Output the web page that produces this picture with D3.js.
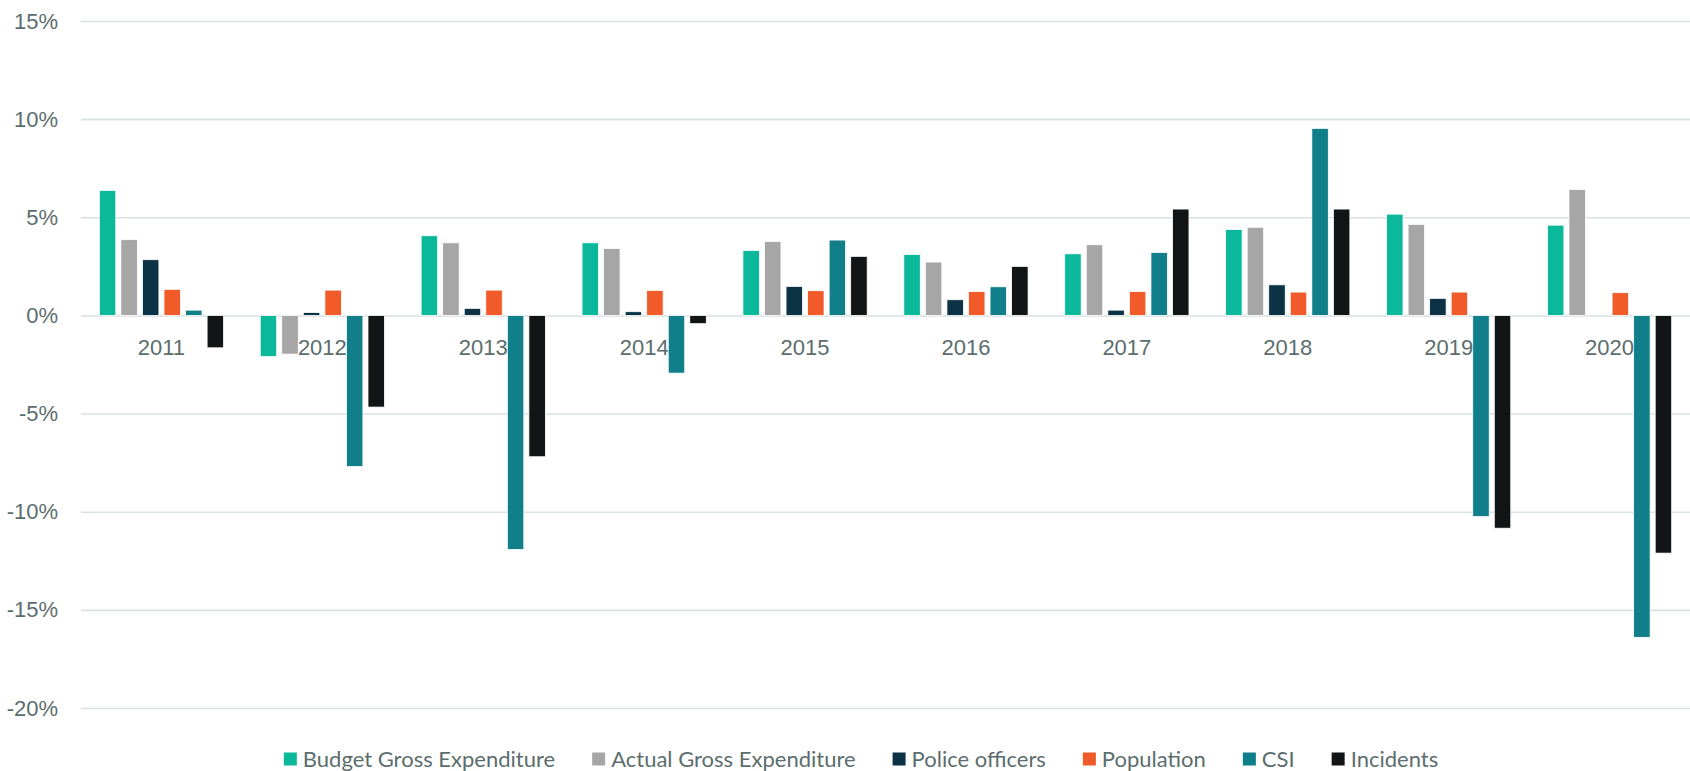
<!DOCTYPE html>
<html>
<head>
<meta charset="utf-8">
<script src="https://cdn.jsdelivr.net/npm/d3@7"></script>
<style>
	body { margin: 0; background: #fff; }
	svg { display: block; font-family: Lato, "Open Sans", sans-serif; }
	.yAxis text, .xAxis text { fill: #5b6e6d; font-size: 22px; }
	.legend text { fill: #5b6e6d; font-size: 22px; }
</style>
</head>
<body>
<svg id="chart"></svg>
<script>
// values (percent change)
var years = ["2011", "2012", "2013", "2014", "2015", "2016", "2017", "2018", "2019", "2020"];
var seriesNames = ["Budget Gross Expenditure", "Actual Gross Expenditure", "Police officers", "Population", "CSI", "Incidents"];
var seriesColors = ["#0bb99a", "#a6a6a6", "#0c3246", "#f15a29", "#117f8a", "#111516"];

var budgetGross    = [6.37, -2.10, 4.06, 3.70, 3.31, 3.11, 3.14, 4.38, 5.16, 4.60];
var actualGross    = [3.86, -1.97, 3.70, 3.41, 3.77, 2.72, 3.60, 4.49, 4.64, 6.41];
var policeOfficers = [2.84, 0.15, 0.36, 0.19, 1.48, 0.80, 0.27, 1.56, 0.87, null];
var population     = [1.33, 1.29, 1.29, 1.27, 1.26, 1.22, 1.22, 1.19, 1.19, 1.16];
var csi            = [0.27, -7.70, -11.93, -2.94, 3.84, 1.46, 3.21, 9.53, -10.25, -16.40];
var incidents      = [-1.65, -4.67, -7.20, -0.42, 3.01, 2.50, 5.42, 5.42, -10.84, -12.11];

var yTicks = [-20, -15, -10, -5, 0, 5, 10, 15];

var allSeries = [budgetGross, actualGross, policeOfficers, population, csi, incidents];

var width = 1690, height = 771;
var margin = { top: 21, right: 0, bottom: 63, left: 81 };

var svg = d3.select("#chart")
	.attr("width", width)
	.attr("height", height);

var x0 = d3.scaleBand()
	.domain(years)
	.range([margin.left, width - margin.right])
	.paddingInner(0)
	.paddingOuter(0);

var x1 = d3.scaleBand()
	.domain(d3.range(seriesNames.length))
	.range([0, x0.bandwidth()])
	.paddingInner(0.235)
	.paddingOuter(0.85);

var y = d3.scaleLinear()
	.domain([-20, 15])
	.range([height - margin.bottom, margin.top]);

// gridlines + y labels
var yAxis = svg.append("g")
	.attr("class", "yAxis")
	.attr("transform", "translate(" + margin.left + ",0)")
	.call(d3.axisLeft(y)
		.tickValues(yTicks)
		.tickSize(-(width - margin.left - margin.right))
		.tickPadding(23)
		.tickFormat(function(d) { return d + "%"; }));
yAxis.select(".domain").remove();
yAxis.selectAll("line")
	.attr("stroke", "#d9e1e0")
	.attr("stroke-width", 1.6);

// bars
var groups = svg.append("g")
	.selectAll("g")
	.data(years)
	.enter()
	.append("g")
	.attr("transform", function(d) { return "translate(" + x0(d) + ",0)"; });

groups.selectAll("rect")
	.data(function(d, i) {
		return allSeries.map(function(s, k) { return { key: k, value: s[i] }; })
			.filter(function(e) { return e.value != null; });
	})
	.enter()
	.append("rect")
	.attr("x", function(d) { return x1(d.key); })
	.attr("width", x1.bandwidth())
	.attr("y", function(d) { return y(Math.max(0, d.value)); })
	.attr("height", function(d) { return Math.abs(y(d.value) - y(0)); })
	.attr("fill", function(d) { return seriesColors[d.key]; })
	.attr("stroke", "#ffffff")
	.attr("stroke-width", 0.8);

// category labels below zero line
var xAxis = svg.append("g")
	.attr("class", "xAxis")
	.attr("transform", "translate(0," + y(0) + ")")
	.call(d3.axisBottom(x0).tickSize(0).tickPadding(24));
xAxis.select(".domain").remove();

// legend
var legend = svg.append("g").attr("class", "legend");
var items = legend.selectAll("g")
	.data(seriesNames)
	.enter()
	.append("g");
items.append("rect")
	.attr("width", 13)
	.attr("height", 13)
	.attr("y", -6.5)
	.attr("fill", function(d, i) { return seriesColors[i]; });
items.append("text")
	.attr("x", 19)
	.attr("dy", "0.35em")
	.text(function(d) { return d; });

var pos = 0, gap = 37;
items.each(function() {
	var w = 19 + this.querySelector("text").getComputedTextLength();
	d3.select(this).attr("data-x", pos);
	pos += w + gap;
});
var total = pos - gap;
var legendCenter = 861;
items.attr("transform", function() {
	return "translate(" + (+this.getAttribute("data-x")) + ",0)";
});
legend.attr("transform", "translate(" + (legendCenter - total / 2) + ",759)");
</script>
</body>
</html>
